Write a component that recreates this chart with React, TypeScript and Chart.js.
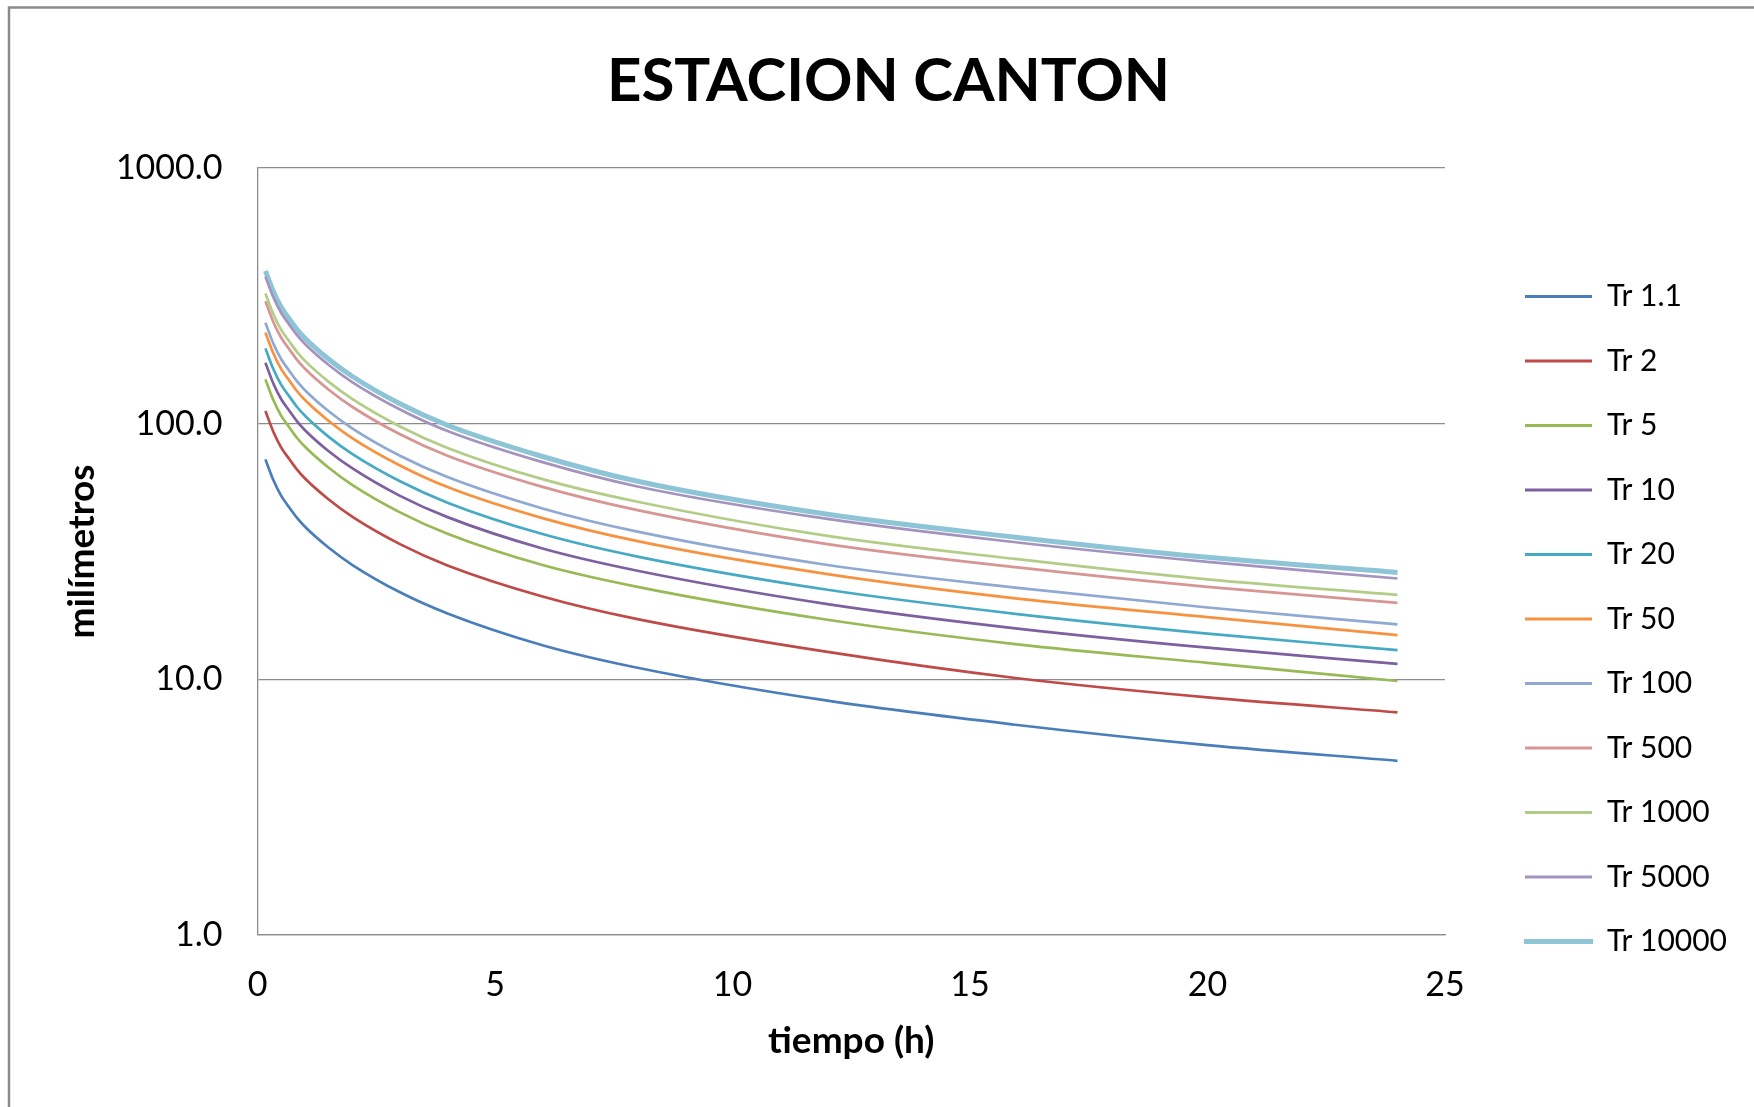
import React, { useEffect, useRef } from "react";
import { Chart, registerables } from "chart.js";

Chart.register(...registerables);

// ---------- data ----------
const TITLE = "ESTACION CANTON";
const X_TITLE = "tiempo (h)";
const Y_TITLE = "milímetros";

const TIMES = [0.1667, 0.3333, 0.5, 0.6667, 0.8333, 1, 1.5, 2, 3, 4, 6, 8, 12, 16, 20, 24];

const SERIES_NAMES = [
  "Tr 1.1", "Tr 2", "Tr 5", "Tr 10", "Tr 20", "Tr 50",
  "Tr 100", "Tr 500", "Tr 1000", "Tr 5000", "Tr 10000",
];

const TR_1_1 = [72.5, 60.2, 52.2, 47.1, 42.8, 39.5, 32.7, 28.0, 21.9, 18.1, 13.6, 11.1, 8.25, 6.63, 5.53, 4.8];
const TR_2 = [112, 93.0, 80.6, 72.8, 66.1, 61.0, 50.5, 43.2, 33.8, 27.9, 21.1, 17.2, 12.8, 10.1, 8.5, 7.43];
const TR_5 = [149, 123.7, 107.3, 96.9, 87.9, 81.2, 67.2, 57.5, 45.0, 37.1, 28.0, 23.0, 17.1, 13.7, 11.6, 9.85];
const TR_10 = [173, 143.6, 124.6, 112.5, 102.1, 94.3, 78.0, 66.8, 52.2, 43.1, 32.5, 26.6, 19.7, 15.8, 13.3, 11.5];
const TR_20 = [197, 163.5, 141.8, 128.1, 116.2, 107.4, 88.8, 76.0, 59.5, 49.1, 37.0, 30.2, 22.4, 18.0, 15.1, 13.0];
const TR_50 = [227, 188.4, 163.4, 147.6, 133.9, 123.7, 102.4, 87.6, 68.6, 56.5, 42.7, 34.7, 25.8, 20.7, 17.5, 14.9];
const TR_100 = [248, 205.8, 178.6, 161.2, 146.3, 135.2, 111.8, 95.7, 74.9, 61.8, 46.6, 37.8, 28.0, 22.8, 19.1, 16.4];
const TR_500 = [301, 249.8, 216.7, 195.7, 177.6, 164.0, 135.8, 116.2, 90.9, 74.9, 56.6, 45.9, 33.8, 27.4, 23.0, 19.9];
const TR_1000 = [323, 268.1, 232.6, 210.0, 190.6, 176.0, 145.7, 124.7, 97.5, 80.4, 60.7, 49.5, 36.4, 29.5, 24.6, 21.4];
const TR_5000 = [376, 312.1, 270.7, 244.4, 221.8, 204.9, 169.6, 145.1, 113.6, 93.6, 70.7, 56.8, 42.4, 34.3, 28.8, 24.8];
const TR_10000 = [396, 328.7, 285.1, 257.4, 233.6, 215.8, 178.6, 152.9, 119.6, 98.6, 74.4, 59.5, 44.2, 35.9, 30.0, 26.2];

const Y_TICKS = [1, 10, 100, 1000];
const X_TICKS = [0, 5, 10, 15, 20, 25];

// ---------- styles ----------
const COLORS = [
  "#4A7EBB", "#BE4B48", "#98B954", "#7D60A0", "#46AAC5", "#F69240",
  "#8FA9D3", "#D79593", "#B2CD87", "#A593BF", "#8DC5D6",
];
const FONT = "Lato, 'Open Sans', sans-serif";
const GRID = "#8C8C8C";
const W = 1754;
const H = 1107;

const framePlugin = {
  id: "frame",
  beforeDraw(chart: any) {
    const ctx = chart.ctx;
    ctx.save();
    ctx.strokeStyle = "#8A8A8A";
    ctx.lineWidth = 2.5;
    ctx.strokeRect(9, 7.5, 1800, 1200);
    ctx.restore();
  },
};

export default function App() {
  const ref = useRef<HTMLCanvasElement | null>(null);

  useEffect(() => {
    if (!ref.current) return;
    const SERIES = [TR_1_1, TR_2, TR_5, TR_10, TR_20, TR_50, TR_100, TR_500, TR_1000, TR_5000, TR_10000];

    const legendFontSize = 30;
    const legendPad = 34.5;
    const boxW = 67;
    const mctx = document.createElement("canvas").getContext("2d")!;
    mctx.font = `normal normal ${legendFontSize}px ${FONT}`;
    const textW = Math.max(...SERIES_NAMES.map((n) => mctx.measureText(n).width));
    const plotRight = 1445;
    const gapAxis = 45.5;
    const legendW = legendPad + boxW + legendFontSize / 2 + textW + 10;
    const padRight = Math.max(0, W - plotRight - gapAxis - legendW);

    const chart = new Chart(ref.current, {
      type: "line",
      data: {
        datasets: SERIES.map((vals, i) => ({
          label: SERIES_NAMES[i],
          data: TIMES.map((t, j) => ({ x: t, y: vals[j] })),
          borderColor: COLORS[i],
          backgroundColor: COLORS[i],
          borderWidth: i === 10 ? 5 : 2.7,
          pointRadius: 0,
          pointHoverRadius: 0,
          cubicInterpolationMode: "monotone" as const,
          fill: false,
        })),
      },
      options: {
        animation: false,
        responsive: false,
        devicePixelRatio: 1,
        events: [],
        layout: { padding: { left: 40, top: 8, right: padRight, bottom: 37 } },
        plugins: {
          tooltip: { enabled: false },
          title: {
            display: true,
            text: TITLE,
            color: "#000",
            font: { family: FONT, size: 60, weight: "bold", lineHeight: 1.2 },
            padding: { top: 38, bottom: 50 },
          },
          legend: {
            display: true,
            position: "right",
            align: "start",
            title: { display: true, text: "", font: { size: 10, lineHeight: 1.2 }, padding: { top: 227, bottom: 0 } },
            labels: {
              color: "#000",
              font: { family: FONT, size: legendFontSize, lineHeight: 1.2 },
              boxWidth: boxW,
              boxHeight: 3,
              padding: legendPad,
              generateLabels: (c: any) =>
                c.data.datasets.map((ds: any, i: number) => ({
                  text: ds.label,
                  fillStyle: ds.borderColor,
                  strokeStyle: ds.borderColor,
                  lineWidth: i === 10 ? 2.2 : 0,
                  hidden: false,
                  datasetIndex: i,
                  fontColor: "#000",
                })),
            },
          },
        },
        scales: {
          x: {
            type: "linear",
            position: "bottom",
            min: 0,
            max: 25,
            afterBuildTicks: (s: any) => {
              s.ticks = X_TICKS.map((v) => ({ value: v }));
            },
            afterFit: (s: any) => {
              s.height = 135;
            },
            ticks: {
              color: "#000",
              font: { family: FONT, size: 34, lineHeight: 1.2 },
              padding: 30,
              maxRotation: 0,
              autoSkip: false,
            },
            grid: { display: false, drawTicks: false },
            border: { display: true, color: GRID, width: 1.3 },
            title: {
              display: true,
              text: X_TITLE,
              color: "#000",
              font: { family: FONT, size: 37, weight: "bold", lineHeight: 1.2 },
              padding: { top: 0, bottom: 6.3 },
            },
          },
          y: {
            type: "logarithmic",
            position: "left",
            min: 1,
            max: 1000,
            afterBuildTicks: (s: any) => {
              s.ticks = Y_TICKS.map((v) => ({ value: v }));
            },
            afterFit: (s: any) => {
              s.width = 217.5;
            },
            ticks: {
              color: "#000",
              font: { family: FONT, size: 34, lineHeight: 1.2 },
              padding: 35,
              autoSkip: false,
              callback: (v: any) => Number(v).toFixed(1),
            },
            grid: { color: GRID, lineWidth: 1.3, drawTicks: false },
            border: { display: true, color: GRID, width: 1.3 },
            title: {
              display: true,
              text: Y_TITLE,
              color: "#000",
              font: { family: FONT, size: 37, weight: "bold", lineHeight: 1.2 },
              padding: { top: 20, bottom: 0 },
            },
          },
          yRight: {
            type: "linear",
            position: "right",
            display: true,
            grid: { display: false, drawTicks: false },
            ticks: { display: false },
            border: { display: false },
            afterFit: (s: any) => {
              s.width = gapAxis;
            },
          },
        },
      } as any,
      plugins: [framePlugin],
    });

    return () => chart.destroy();
  }, []);

  return (
    <div style={{ position: "absolute", left: 0, top: 0, width: W, height: H, overflow: "hidden", background: "#fff" }}>
      <canvas ref={ref} width={W} height={H} style={{ display: "block", width: W, height: H }} />
    </div>
  );
}
